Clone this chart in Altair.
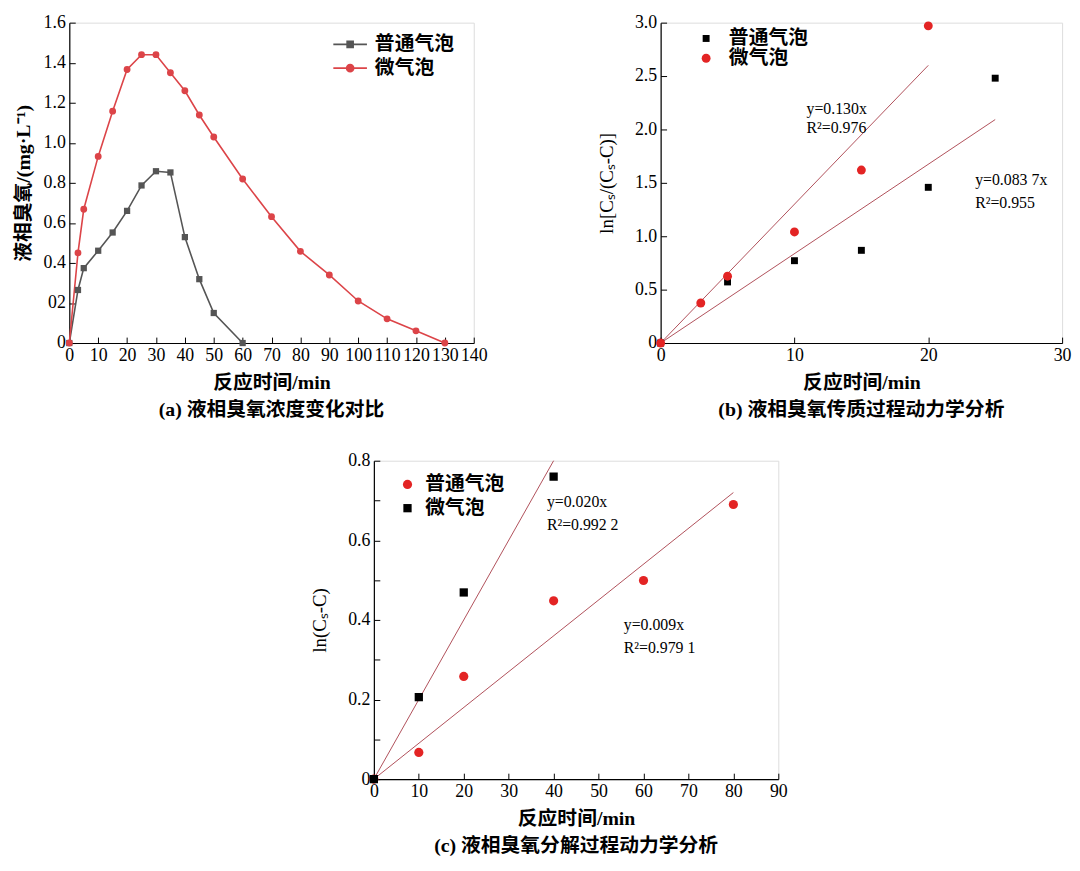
import altair as alt
import pandas as pd

SERIF = "Liberation Serif"
CJK = "Noto Sans CJK SC"
MIXED = "Liberation Serif, Noto Sans CJK SC"
N_NAME = "普通气泡"
M_NAME = "微气泡"
GRAY = "#555555"
RED_A = "#dc4448"
RED = "#e32424"
BLACK = "#000000"
FIT = "#b0505a"

# ---------------- (a) data ----------------
a_t_normal = [0, 3, 5, 10, 15, 20, 25, 30, 35, 40, 45, 50, 60]
a_c_normal = [0, 0.265, 0.374, 0.461, 0.552, 0.66, 0.787, 0.858, 0.852, 0.529, 0.319, 0.15, 0]
a_t_micro = [0, 3, 5, 10, 15, 20, 25, 30, 35, 40, 45, 50, 60, 70, 80, 90, 100, 110, 120, 130]
a_c_micro = [0, 0.45, 0.668, 0.932, 1.158, 1.366, 1.44, 1.44, 1.35, 1.26, 1.139, 1.029,
             0.819, 0.631, 0.458, 0.34, 0.21, 0.121, 0.061, 0]
a_xticks = list(range(0, 141, 10))
a_yticks = [0, 0.2, 0.4, 0.6, 0.8, 1.0, 1.2, 1.4, 1.6]

# ---------------- (b) data ----------------
b_t_normal = [0, 5, 10, 15, 20, 25]
b_v_normal = [0, 0.572, 0.771, 0.868, 1.458, 2.48]
b_t_micro = [0, 3, 5, 10, 15, 20]
b_v_micro = [0, 0.375, 0.626, 1.04, 1.62, 2.97]
b_fit_slope = [0.0837, 0.130]
b_fit_xmax = [25, 20]
b_ann_text = ["y=0.130x", "R²=0.976", "y=0.083 7x", "R²=0.955"]
b_ann_x = [10.9, 10.9, 23.5, 23.5]
b_ann_y = [2.19, 2.01, 1.53, 1.31]
b_xticks = [0, 10, 20, 30]
b_yticks = [0, 0.5, 1.0, 1.5, 2.0, 2.5, 3.0]

# ---------------- (c) data ----------------
c_t_normal = [0, 10, 20, 40, 60, 80]
c_v_normal = [0, 0.067, 0.258, 0.448, 0.499, 0.690]
c_t_micro = [0, 10, 20, 40]
c_v_micro = [0, 0.206, 0.469, 0.760]
c_fit_slope = [0.009, 0.020]
c_fit_xmax = [80, 40]
c_ann_text = ["y=0.020x", "R²=0.992 2", "y=0.009x", "R²=0.979 1"]
c_ann_x = [38.5, 38.5, 55.6, 55.6]
c_ann_y = [0.695, 0.639, 0.388, 0.329]
c_xticks = list(range(0, 91, 10))
c_yticks = [0, 0.2, 0.4, 0.6, 0.8]
c_yminor = [0, 0.1, 0.2, 0.3, 0.4, 0.5, 0.6, 0.7, 0.8]

WA, HA = 409, 324
WB, HB = 406, 324
WC, HC = 409, 322


def series_df(t_n, v_n, t_m, v_m):
    dn = pd.DataFrame({"t": t_n, "v": v_n, "series": N_NAME})
    dm = pd.DataFrame({"t": t_m, "v": v_m, "series": M_NAME})
    return pd.concat([dn, dm], ignore_index=True)


def fit_df(slopes, xmax, names):
    rows = []
    for k, xm, nm in zip(slopes, xmax, names):
        rows.append({"t": 0, "k": k, "fit": nm})
        rows.append({"t": xm, "k": k, "fit": nm})
    return pd.DataFrame(rows)


def tick_layer(df, xdom, ydom, xvals, yvals, w, h):
    return alt.Chart(df).mark_point(opacity=0).encode(
        x=alt.X("t:Q", scale=alt.Scale(domain=xdom, nice=False),
                axis=alt.Axis(orient="top", offset=-h, values=xvals, labels=False,
                              domain=False, ticks=True, tickSize=6, tickColor="black",
                              tickWidth=1, title=None, grid=False)),
        y=alt.Y("v:Q", scale=alt.Scale(domain=ydom, nice=False),
                axis=alt.Axis(orient="right", offset=-w, values=yvals, labels=False,
                              domain=False, ticks=True, tickSize=6, tickColor="black",
                              tickWidth=1, title=None, grid=False)),
    )


def main_axis(title, values, label_expr=None, title_font=MIXED, title_size=20, title_pad=8,
              title_weight="bold"):
    kw = dict(title=title, values=values, ticks=False, domain=True, domainColor="black",
              domainWidth=1.2, labelFont=SERIF, labelFontSize=18, labelColor="black",
              labelPadding=4, titleFont=title_font, titleFontSize=title_size,
              titleFontWeight=title_weight, titleColor="black", titlePadding=title_pad,
              grid=False, labelFlush=False, labelOverlap=False)
    if label_expr:
        kw["labelExpr"] = label_expr
    return alt.Axis(**kw)


def caption(text):
    return alt.TitleParams(text=text, orient="bottom", font=MIXED, fontSize=20,
                           fontWeight="bold", color="black", offset=8, anchor="middle")


# ---------------- (a) chart ----------------
dfa = series_df(a_t_normal, a_c_normal, a_t_micro, a_c_micro)
xa = alt.Scale(domain=[0, 140], nice=False)
ya = alt.Scale(domain=[0, 1.6], nice=False)

a_lines = alt.Chart(dfa).mark_line(strokeWidth=1.6).encode(
    x=alt.X("t:Q", scale=xa, axis=main_axis("反应时间/min", a_xticks)),
    y=alt.Y("v:Q", scale=ya, axis=main_axis(
        "液相臭氧/(mg·L⁻¹)", a_yticks,
        "datum.value == 0 ? '0' : (abs(datum.value - 0.2) < 1e-6 ? '02' : format(datum.value, '.1f'))",
        title_pad=10)),
    stroke=alt.Stroke("series:N", scale=alt.Scale(domain=[N_NAME, M_NAME], range=[GRAY, RED_A]),
                      legend=None),
    detail="series:N",
)

PATH_SQ = "M-1,0H1M-0.18,-0.18H0.18V0.18H-0.18Z"
PATH_CI = "M-1,0H1M0.21,0A0.21,0.21,0,1,1,-0.21,0A0.21,0.21,0,1,1,0.21,0Z"


def legend_a(ypos, path, col):
    return alt.Legend(orient="none", legendX=266, legendY=ypos, title=None, padding=0,
                      symbolType=path, symbolSize=1156, symbolStrokeColor=col,
                      symbolStrokeWidth=1.6, labelFont=CJK, labelFontSize=20,
                      labelFontWeight="bold", labelColor="black", labelOffset=7)


a_pts_n = alt.Chart(dfa).transform_filter(alt.datum.series == N_NAME).mark_point(
    filled=True, shape="square", size=40, opacity=1).encode(
    x=alt.X("t:Q", scale=xa, axis=None),
    y=alt.Y("v:Q", scale=ya, axis=None),
    color=alt.Color("series:N", scale=alt.Scale(domain=[N_NAME], range=[GRAY]),
                    legend=legend_a(4, PATH_SQ, GRAY)),
)
a_pts_m = alt.Chart(dfa).transform_filter(alt.datum.series == M_NAME).mark_point(
    filled=True, shape="circle", size=48, opacity=1).encode(
    x=alt.X("t:Q", scale=xa, axis=None),
    y=alt.Y("v:Q", scale=ya, axis=None),
    color=alt.Color("series:N", scale=alt.Scale(domain=[M_NAME], range=[RED_A]),
                    legend=legend_a(28, PATH_CI, RED_A)),
)
panel_a = alt.layer(
    a_lines, a_pts_n, a_pts_m,
    tick_layer(dfa, [0, 140], [0, 1.6], a_xticks, a_yticks, WA, HA),
).resolve_scale(color="independent").resolve_axis(x="independent", y="independent").properties(
    width=WA, height=HA, title=caption("(a) 液相臭氧浓度变化对比"))


# ---------------- scatter + fit panels ----------------
def fit_panel(df, fdf, ann, xdom, ydom, xticks, yticks, yminor, w, h, ytitle, order,
              colors, shapes, sizes, leg_x, leg_y, leg_off, leg_pad, cap, ylabel_expr):
    xs = alt.Scale(domain=xdom, nice=False)
    ys = alt.Scale(domain=ydom, nice=False)
    fits = alt.Chart(fdf).transform_calculate(v="datum.k * datum.t").mark_line(
        color=FIT, strokeWidth=1).encode(
        x=alt.X("t:Q", scale=xs, axis=main_axis("反应时间/min", xticks)),
        y=alt.Y("v:Q", scale=ys, axis=main_axis(ytitle, yticks, ylabel_expr, title_font=SERIF,
                                                title_size=19, title_pad=18,
                                                title_weight="normal")),
        detail="fit:N",
    )
    pts = alt.Chart(df).mark_point(filled=True, opacity=1).encode(
        x=alt.X("t:Q", scale=xs, axis=None),
        y=alt.Y("v:Q", scale=ys, axis=None),
        color=alt.Color("series:N", scale=alt.Scale(domain=order, range=colors),
                        legend=alt.Legend(orient="none", legendX=leg_x, legendY=leg_y,
                                          title=None, padding=0, labelFont=CJK,
                                          labelFontSize=20, labelFontWeight="bold",
                                          labelColor="black", labelOffset=leg_off,
                                          rowPadding=leg_pad)),
        shape=alt.Shape("series:N", scale=alt.Scale(domain=order, range=shapes)),
        size=alt.Size("series:N", scale=alt.Scale(domain=order, range=sizes)),
        order=alt.Order("draw:Q"),
    )
    txt = alt.Chart(ann).mark_text(align="left", baseline="middle", font=SERIF, fontSize=16,
                                   color="black").encode(
        x=alt.X("x:Q", scale=xs, axis=None),
        y=alt.Y("y:Q", scale=ys, axis=None),
        text="text:N",
    )
    return alt.layer(
        fits, pts, txt, tick_layer(df, xdom, ydom, xticks, yminor, w, h)
    ).resolve_axis(x="independent", y="independent").properties(
        width=w, height=h, title=caption(cap))


# (b): black squares drawn first, red circles on top
dfb = series_df(b_t_normal, b_v_normal, b_t_micro, b_v_micro)
dfb["draw"] = (dfb["series"] == M_NAME).astype(int)
fitb = fit_df(b_fit_slope, b_fit_xmax, [N_NAME, M_NAME])
annb = pd.DataFrame({"text": b_ann_text, "x": b_ann_x, "y": b_ann_y})
panel_b = fit_panel(
    dfb, fitb, annb, [0, 30], [0, 3.0], b_xticks, b_yticks, b_yticks, WB, HB,
    "ln[Cₛ/(Cₛ-C)]", [N_NAME, M_NAME], [BLACK, RED], ["square", "circle"], [49, 81],
    36, 6, 13, 0, "(b) 液相臭氧传质过程动力学分析",
    "datum.value == 0 ? '0' : format(datum.value, '.1f')")

# (c): red circles drawn first, black squares on top
dfc = series_df(c_t_normal, c_v_normal, c_t_micro, c_v_micro)
dfc["draw"] = (dfc["series"] == M_NAME).astype(int)
fitc = fit_df(c_fit_slope, c_fit_xmax, [N_NAME, M_NAME])
annc = pd.DataFrame({"text": c_ann_text, "x": c_ann_x, "y": c_ann_y})
panel_c = fit_panel(
    dfc, fitc, annc, [0, 90], [0, 0.8], c_xticks, c_yticks, c_yminor, WC, HC,
    "ln(Cₛ-C)", [N_NAME, M_NAME], [RED, BLACK], ["circle", "square"], [86, 70],
    24, 14, 8, 4, "(c) 液相臭氧分解过程动力学分析",
    "datum.value == 0 ? '0' : format(datum.value, '.1f')")

spacer = alt.Chart(pd.DataFrame({"s": [0]})).mark_point(opacity=0).encode(
    x=alt.value(0), y=alt.value(0)).properties(
    width=244, height=10,
    view=alt.ViewBackground(stroke="transparent", strokeWidth=0, fill="transparent"))

INDEP = dict(color="independent", shape="independent", size="independent",
             stroke="independent")

top = alt.hconcat(panel_a, panel_b, spacing=111).resolve_scale(**INDEP).resolve_legend(**INDEP)
bottom = alt.hconcat(spacer, panel_c, spacing=0).resolve_scale(**INDEP).resolve_legend(**INDEP)
chart = alt.vconcat(top, bottom, spacing=30).resolve_scale(**INDEP).resolve_legend(
    **INDEP).properties(
    padding={"left": 5, "top": 0, "right": 0, "bottom": 0}
).configure_view(stroke="transparent").configure(background="white")

chart.save("out.html", embed_options={"renderer": "svg", "actions": False})
